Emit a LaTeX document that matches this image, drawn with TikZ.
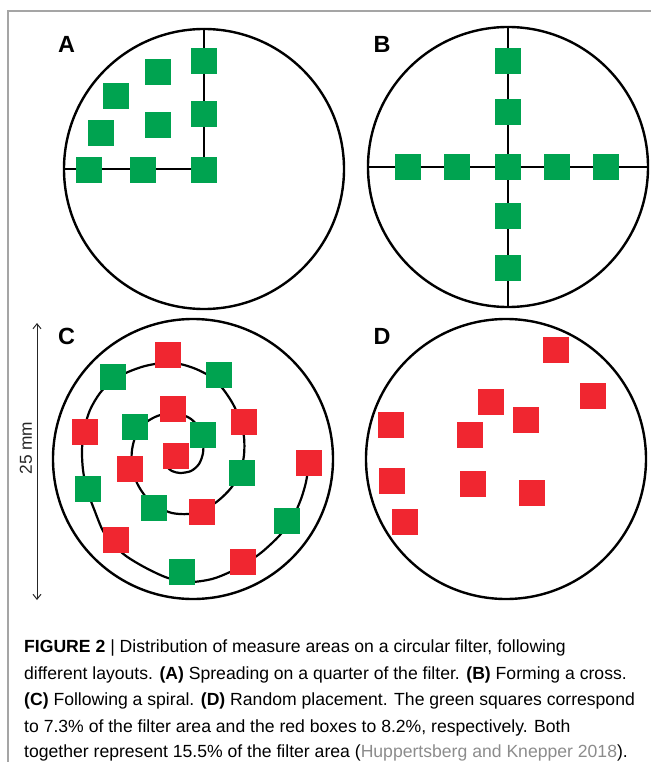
\documentclass[tikz,border=0pt]{standalone}
\usepackage{fontspec}
\setmainfont{Liberation Sans}
\usetikzlibrary{arrows.meta}
\definecolor{sqgreen}{RGB}{0,163,80}
\definecolor{sqred}{RGB}{240,38,48}
\definecolor{citegrey}{RGB}{140,140,140}
\definecolor{framegrey}{RGB}{165,165,165}
\begin{document}
\begin{tikzpicture}[x=1bp,y=-1bp,
  gsq/.style={rectangle,fill=sqgreen,minimum size=26.5bp,inner sep=0pt,outer sep=0pt},
  rsq/.style={rectangle,fill=sqred,minimum size=26.5bp,inner sep=0pt,outer sep=0pt},
  filter/.style={circle,draw=black,line width=2.4bp,minimum size=280bp,inner sep=0pt},
  axis/.style={draw=black,line width=2bp},
  panel/.style={font=\bfseries\fontsize{23.5}{23.5}\selectfont,inner sep=0pt},
  capline/.style={anchor=base west,inner sep=0pt,font=\fontsize{17.6bp}{26.5bp}\selectfont}
]
\useasboundingbox (0,0) rectangle (651,762);
% frame
\coordinate (fTL) at (8,11);
\coordinate (fTR) at (651,11);
\coordinate (fBL) at (8,762);
\draw[framegrey,line width=1.5bp] (fTR) -- (fTL) -- (fBL);

% ---------- A ----------
\node[filter] (cA) at (204,169) {};
\draw[axis] (cA.north) -- (cA.center) -- (cA.west);
\node[panel] (lA) at (66.5,44.5) {A};
\node[gsq] (a1) at (204,61) {};
\node[gsq] (a2) at (158,72) {};
\node[gsq] (a3) at (116,96) {};
\node[gsq] (a4) at (204,114) {};
\node[gsq] (a5) at (158,125) {};
\node[gsq] (a6) at (101,133) {};
\node[gsq] (a7) at (89,170) {};
\node[gsq] (a8) at (143,170) {};
\node[gsq] (a9) at (204,170) {};

% ---------- B ----------
\node[filter] (cB) at (508,167) {};
\draw[axis] (cB.north) -- (cB.south);
\draw[axis] (cB.west) -- (cB.east);
\node[panel] (lB) at (382,44) {B};
\node[gsq] (b1) at (508,61) {};
\node[gsq] (b2) at (508,112) {};
\node[gsq] (b3) at (508,167) {};
\node[gsq] (b4) at (508,216) {};
\node[gsq] (b5) at (508,268) {};
\node[gsq] (b6) at (408,167) {};
\node[gsq] (b7) at (457,167) {};
\node[gsq] (b8) at (557,167) {};
\node[gsq] (b9) at (606,167) {};

% ---------- C ----------
\node[filter] (cC) at (193,459) {};
\draw[line width=2.2bp,black] plot[smooth] coordinates {
 (167,467) (172,471) (180,473) (191,471) (199,464) (203,453) (203,440) (199,428)
 (191,419) (180,414) (168,413) (155,417) (144,424) (136,435) (132,450) (132,466)
 (137,483) (146,497) (158,507) (172,513) (188,514) (204,510) (219,500) (231,488)
 (240,473) (244,455) (244,437) (240,420) (233,404) (223,389) (211,377) (196,369)
 (180,364) (163,363) (145,366) (128,372) (113,380) (100,393) (90,410) (84,430)
 (82,450) (83,470) (87,490) (94,509) (103,531) (113,544) (126,556) (146,568)
 (168,578) (190,582) (212,579) (230,572) (246,563) (262,552) (280,535) (293,517)
 (301,499) (306,482) (309,463)};
\node[panel] (lC) at (66.5,336) {C};
\node[rsq] (c1) at (176,456) {};
\node[gsq] (c2) at (203,435) {};
\node[rsq] (c3) at (173,409) {};
\node[gsq] (c4) at (135,427) {};
\node[rsq] (c5) at (130,469) {};
\node[gsq] (c6) at (154,508) {};
\node[rsq] (c7) at (202,512) {};
\node[gsq] (c8) at (242,473) {};
\node[rsq] (c9) at (244,422) {};
\node[gsq] (c10) at (219,375) {};
\node[rsq] (c11) at (168,355) {};
\node[gsq] (c12) at (113,377) {};
\node[rsq] (c13) at (85,432) {};
\node[gsq] (c14) at (88,489) {};
\node[rsq] (c15) at (116,540) {};
\node[gsq] (c16) at (182,572) {};
\node[rsq] (c17) at (243,562) {};
\node[gsq] (c18) at (287,521) {};
\node[rsq] (c19) at (309,463) {};
% dimension arrow
\coordinate (arT) at (37,323);
\coordinate (arB) at (37,600);
\draw[black!85,line width=1bp,{Straight Barb[length=5bp,width=8bp]}-{Straight Barb[length=5bp,width=8bp]}] (arT) -- (arB);
\node[rotate=90,inner sep=0pt,font=\fontsize{17.3bp}{17.3bp}\selectfont,black!85] (dim) at (26,448) {25 mm};

% ---------- D ----------
\node[filter] (cD) at (506,459) {};
\node[panel] (lD) at (382,336) {D};
\node[rsq] (d1) at (556,350) {};
\node[rsq] (d2) at (593,396) {};
\node[rsq] (d3) at (491,402) {};
\node[rsq] (d4) at (526,420) {};
\node[rsq] (d5) at (391,425) {};
\node[rsq] (d6) at (470,435) {};
\node[rsq] (d7) at (392,481) {};
\node[rsq] (d8) at (473,484) {};
\node[rsq] (d9) at (532,493) {};
\node[rsq] (d10) at (405,522) {};

% ---------- caption ----------
\node[capline] (cap1) at (24,652.5) {\textbf{FIGURE 2} | Distribution of measure areas on a circular filter, following};
\node[capline] (cap2) at (24,679) {different layouts. \textbf{(A)} Spreading on a quarter of the filter. \textbf{(B)} Forming a cross.};
\node[capline] (cap3) at (24,705.5) {\textbf{(C)} Following a spiral. \textbf{(D)} Random placement. The green squares correspond};
\node[capline] (cap4) at (24,732) {to 7.3\% of the filter area and the red boxes to 8.2\%, respectively. Both};
\node[capline] (cap5) at (24,757.5) {together represent 15.5\% of the filter area ({\color{citegrey}Huppertsberg and Knepper 2018}).};
\end{tikzpicture}
\end{document}
